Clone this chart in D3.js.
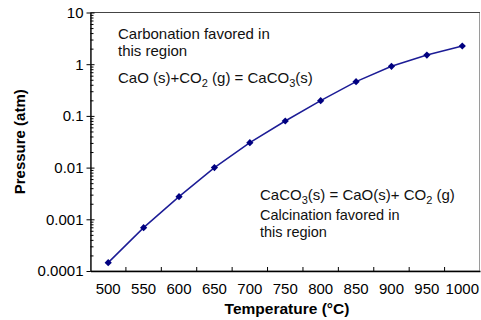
<!DOCTYPE html>
<html>
<head>
<meta charset="utf-8">
<script src="https://cdn.jsdelivr.net/npm/d3@7"></script>
<style>
  body { margin: 0; background: #fff; }
  svg { display: block; font-family: "Liberation Sans", Arial, sans-serif; }
</style>
</head>
<body>
<svg width="481" height="320"></svg>
<script>
var temps = ["500", "550", "600", "650", "700", "750", "800", "850", "900", "950", "1000"];
var pressure = [0.000145, 0.00069, 0.00274, 0.0100, 0.0303, 0.0797, 0.197, 0.459, 0.91, 1.50, 2.25];
var yTicks = [10, 1, 0.1, 0.01, 0.001, 0.0001];
var yTickLabels = ["10", "1", "0.1", "0.01", "0.001", "0.0001"];

var svg = d3.select("svg"),
    margin = {top: 12.5, right: 1, bottom: 49, left: 90.5},
    width = +svg.attr("width") - margin.left - margin.right,
    height = +svg.attr("height") - margin.top - margin.bottom,
    g = svg.append("g").attr("transform", "translate(" + margin.left + "," + margin.top + ")");

var x = d3.scaleBand()
    .domain(temps)
    .range([0, width]);

var y = d3.scaleLog()
    .domain([0.0001, 10])
    .range([height, 0]);

// plot area frame
g.append("rect")
    .attr("width", width - 0.5)
    .attr("height", height)
    .attr("fill", "none")
    .attr("stroke", "#9a9a9a");
g.append("line")
    .attr("x1", 0).attr("x2", width)
    .attr("stroke", "#444");

// minor log ticks, inside
var minors = [];
for (var e = -4; e < 1; e++) {
  for (var m = 2; m < 10; m++) minors.push(m * Math.pow(10, e));
}
g.append("g")
    .call(d3.axisRight(y).tickValues(minors).tickSize(3).tickFormat(""))
    .call(function(a) { a.select(".domain").remove(); });

// major ticks (inner part)
g.append("g")
    .call(d3.axisRight(y).tickValues(yTicks).tickSize(4).tickFormat(""))
    .call(function(a) { a.select(".domain").remove(); });

// left axis with labels
g.append("g")
    .call(d3.axisLeft(y).tickValues(yTicks).tickSize(4).tickSizeOuter(0)
      .tickFormat(function(d, i) { return yTickLabels[i]; }))
    .call(function(a) {
      a.select(".domain").attr("stroke-width", 1.3);
      a.selectAll("text").attr("font-size", 15).attr("font-family", "Liberation Sans, Arial, sans-serif").attr("fill", "#000").attr("x", -7);
    });

// x axis
var xa = g.append("g")
    .attr("transform", "translate(0," + height + ")")
    .call(d3.axisBottom(x).tickSize(0).tickSizeOuter(0));
xa.select(".domain").attr("stroke-width", 1.3);
xa.selectAll("text")
    .attr("font-size", 15)
    .attr("font-family", "Liberation Sans, Arial, sans-serif")
    .attr("fill", "#000")
    .attr("dy", "1.3em");

xa.selectAll(".bound")
    .data(temps.slice(0, -1))
    .enter().append("line")
      .attr("class", "bound")
      .attr("x1", function(d) { return x(d) + x.bandwidth(); })
      .attr("x2", function(d) { return x(d) + x.bandwidth(); })
      .attr("y1", 0)
      .attr("y2", -4)
      .attr("stroke", "#000");

// line + markers
var pts = temps.map(function(t, i) { return {t: t, p: pressure[i]}; });
var line = d3.line()
    .x(function(d) { return x(d.t) + x.bandwidth() / 2; })
    .y(function(d) { return y(d.p); });

g.append("path")
    .datum(pts)
    .attr("d", line)
    .attr("fill", "none")
    .attr("stroke", "#1c1c96")
    .attr("stroke-width", 1.5);

g.selectAll(".pt")
    .data(pts)
    .enter().append("path")
      .attr("class", "pt")
      .attr("transform", function(d) { return "translate(" + (x(d.t) + x.bandwidth() / 2) + "," + y(d.p) + ") rotate(45)"; })
      .attr("d", d3.symbol().type(d3.symbolSquare).size(26))
      .attr("fill", "#000080");

// axis titles
svg.append("text")
    .attr("x", 287)
    .attr("y", 314)
    .attr("text-anchor", "middle")
    .attr("font-size", 15.5)
    .attr("font-weight", "bold")
    .text("Temperature (\u00B0C)");

svg.append("text")
    .attr("transform", "translate(25," + (margin.top + height / 2) + ") rotate(-90)")
    .attr("text-anchor", "middle")
    .attr("font-size", 15)
    .attr("font-weight", "bold")
    .text("Pressure (atm)");

// annotations
function note(xp, yp, parts) {
  var t = svg.append("text").attr("x", xp).attr("y", yp).attr("font-size", 15).attr("fill", "#111");
  var shift = 0;
  parts.forEach(function(p) {
    var ts = t.append("tspan").text(p.s);
    if (p.sub) {
      ts.attr("font-size", 11).attr("dy", 4);
      shift = -4;
    } else if (shift) {
      ts.attr("dy", shift);
      shift = 0;
    }
  });
}

function block(xp, yp, lines, gap, size) {
  var t = svg.append("text").attr("x", xp).attr("y", yp).attr("font-size", size).attr("fill", "#111");
  lines.forEach(function(s, i) {
    t.append("tspan").attr("x", xp).attr("dy", i ? gap : 0).text(s);
  });
}

block(118, 38.5, ["Carbonation favored in", "this region"], 17.5, 15);
note(118, 83, [{s: "CaO (s)+CO"}, {s: "2", sub: true}, {s: " (g) = CaCO"}, {s: "3", sub: true}, {s: "(s)"}]);

note(260, 199.5, [{s: "CaCO"}, {s: "3", sub: true}, {s: "(s) = CaO(s)+ CO"}, {s: "2", sub: true}, {s: " (g)"}]);
block(260, 220, ["Calcination favored in", "this region"], 16.5, 14.5);
</script>
</body>
</html>
